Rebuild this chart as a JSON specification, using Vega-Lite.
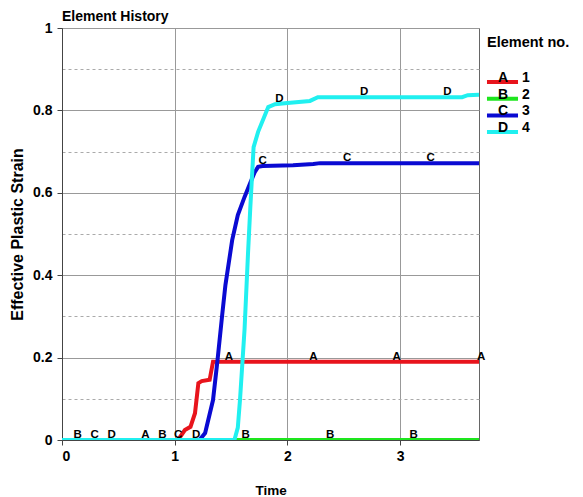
{
  "$schema": "https://vega.github.io/schema/vega-lite/v6.json",
  "width": 417,
  "height": 412,
  "padding": {"left": 9, "top": 10, "right": 5, "bottom": 5},
  "background": "white",
  "title": {"text": "Element History", "anchor": "start", "frame": "group", "font": "Liberation Sans", "fontSize": 14, "fontWeight": "bold", "color": "black", "offset": -3},
  "config": {
    "view": {"stroke": "#666", "strokeWidth": 1},
    "axis": {"labelFont": "Liberation Sans", "labelFontSize": 14, "labelFontWeight": "bold", "labelColor": "black", "titleFont": "Liberation Sans", "titleFontSize": 14, "titleFontWeight": "bold", "titleColor": "black", "domainColor": "#444", "tickColor": "#444", "tickSize": 5, "labelPadding": 4},
    "legend": {"titleFont": "Liberation Sans", "titleFontSize": 14.5, "titleFontWeight": "bold", "titleColor": "black", "labelFont": "Liberation Sans", "labelFontSize": 14, "labelFontWeight": "bold", "labelColor": "black"}
  },
  "datasets": {
    "lines": [
      {"s": "1", "t": 0, "v": 0}, {"s": "1", "t": 1.03, "v": 0}, {"s": "1", "t": 1.09, "v": 0.024}, {"s": "1", "t": 1.14, "v": 0.032}, {"s": "1", "t": 1.18, "v": 0.065}, {"s": "1", "t": 1.21, "v": 0.138}, {"s": "1", "t": 1.24, "v": 0.143}, {"s": "1", "t": 1.31, "v": 0.146}, {"s": "1", "t": 1.34, "v": 0.19}, {"s": "1", "t": 3.7, "v": 0.19},
      {"s": "2", "t": 0, "v": 0}, {"s": "2", "t": 3.7, "v": 0},
      {"s": "3", "t": 0, "v": 0}, {"s": "3", "t": 1.22, "v": 0}, {"s": "3", "t": 1.27, "v": 0.017}, {"s": "3", "t": 1.34, "v": 0.097}, {"s": "3", "t": 1.38, "v": 0.194}, {"s": "3", "t": 1.42, "v": 0.3}, {"s": "3", "t": 1.45, "v": 0.376}, {"s": "3", "t": 1.51, "v": 0.485}, {"s": "3", "t": 1.56, "v": 0.546}, {"s": "3", "t": 1.62, "v": 0.59}, {"s": "3", "t": 1.67, "v": 0.624}, {"s": "3", "t": 1.71, "v": 0.65}, {"s": "3", "t": 1.74, "v": 0.663}, {"s": "3", "t": 1.78, "v": 0.665}, {"s": "3", "t": 2.05, "v": 0.667}, {"s": "3", "t": 2.23, "v": 0.67}, {"s": "3", "t": 2.29, "v": 0.672}, {"s": "3", "t": 3.7, "v": 0.672},
      {"s": "4", "t": 0, "v": 0}, {"s": "4", "t": 1.53, "v": 0}, {"s": "4", "t": 1.56, "v": 0.03}, {"s": "4", "t": 1.58, "v": 0.1}, {"s": "4", "t": 1.62, "v": 0.27}, {"s": "4", "t": 1.65, "v": 0.45}, {"s": "4", "t": 1.67, "v": 0.56}, {"s": "4", "t": 1.7, "v": 0.711}, {"s": "4", "t": 1.74, "v": 0.748}, {"s": "4", "t": 1.83, "v": 0.808}, {"s": "4", "t": 1.89, "v": 0.815}, {"s": "4", "t": 2.0, "v": 0.818}, {"s": "4", "t": 2.2, "v": 0.823}, {"s": "4", "t": 2.27, "v": 0.832}, {"s": "4", "t": 3.55, "v": 0.832}, {"s": "4", "t": 3.6, "v": 0.837}, {"s": "4", "t": 3.7, "v": 0.838}
    ],
    "letters": [
      {"l": "A", "t": 0.74, "v": 0}, {"l": "A", "t": 1.48, "v": 0.19}, {"l": "A", "t": 2.23, "v": 0.19}, {"l": "A", "t": 2.97, "v": 0.19}, {"l": "A", "t": 3.72, "v": 0.19},
      {"l": "B", "t": 0.14, "v": 0}, {"l": "B", "t": 0.89, "v": 0}, {"l": "B", "t": 1.63, "v": 0}, {"l": "B", "t": 2.38, "v": 0}, {"l": "B", "t": 3.12, "v": 0},
      {"l": "C", "t": 0.29, "v": 0}, {"l": "C", "t": 1.03, "v": 0}, {"l": "C", "t": 1.78, "v": 0.665}, {"l": "C", "t": 2.53, "v": 0.672}, {"l": "C", "t": 3.27, "v": 0.672},
      {"l": "D", "t": 0.44, "v": 0}, {"l": "D", "t": 1.19, "v": 0}, {"l": "D", "t": 1.93, "v": 0.816}, {"l": "D", "t": 2.68, "v": 0.832}, {"l": "D", "t": 3.42, "v": 0.832}
    ]
  },
  "encoding": {
    "x": {"field": "t", "type": "quantitative", "title": "Time",
      "scale": {"domain": [0, 3.7], "nice": false, "zero": false},
      "axis": {"values": [0, 0.5, 1, 1.5, 2, 2.5, 3, 3.5], "labelExpr": "datum.value % 1 === 0 ? datum.label : ''", "format": "d", "titlePadding": 20, "titleFontSize": 13.5, "labelPadding": 4,
        "gridColor": {"condition": {"test": "datum.value % 1 !== 0", "value": "#aaa"}, "value": "#999"},
        "gridDash": {"condition": {"test": "datum.value % 1 !== 0", "value": [3, 3]}, "value": []},
        "tickOpacity": {"condition": {"test": "datum.value % 1 !== 0", "value": 0}, "value": 1}}},
    "y": {"field": "v", "type": "quantitative", "title": "Effective Plastic Strain",
      "scale": {"domain": [0, 1], "nice": false},
      "axis": {"values": [0, 0.1, 0.2, 0.3, 0.4, 0.5, 0.6, 0.7, 0.8, 0.9, 1], "labelExpr": "round(datum.value*10) % 2 === 0 ? format(datum.value, '~g') : ''", "titlePadding": 7, "titleFontSize": 16, "labelPadding": 5,
        "gridColor": {"condition": {"test": "round(datum.value*10) % 2 === 1", "value": "#aaa"}, "value": "#999"},
        "gridDash": {"condition": {"test": "round(datum.value*10) % 2 === 1", "value": [3, 3]}, "value": []},
        "tickOpacity": {"condition": {"test": "round(datum.value*10) % 2 === 1", "value": 0}, "value": 1}}}
  },
  "layer": [
    {
      "data": {"name": "lines"},
      "mark": {"type": "line", "strokeWidth": 4, "clip": true},
      "encoding": {
        "color": {"field": "s", "type": "nominal",
          "scale": {"domain": ["1", "2", "3", "4"], "range": ["#e8141c", "#1ee61e", "#0a0ad2", "#20f0f0"]},
          "legend": {"title": "Element no.", "symbolType": "M-3,0H3", "symbolStrokeWidth": 4, "symbolSize": 107, "symbolOffset": 8, "offset": 0, "padding": 8, "titlePadding": 24, "rowPadding": -3.3,
            "labelOffset": -12, "labelBaseline": "alphabetic",
            "labelExpr": "({'1': 'A\u2002\u20021', '2': 'B\u2002\u20022', '3': 'C\u2002\u20023', '4': 'D\u2002\u20024'})[datum.label]"}},
        "order": {"field": "s"}
      }
    },
    {
      "data": {"name": "letters"},
      "mark": {"type": "text", "font": "Liberation Sans", "fontSize": 11.5, "fontWeight": "bold", "color": "black", "baseline": "alphabetic", "align": "center", "dy": -2},
      "encoding": {"text": {"field": "l"}}
    }
  ]
}
